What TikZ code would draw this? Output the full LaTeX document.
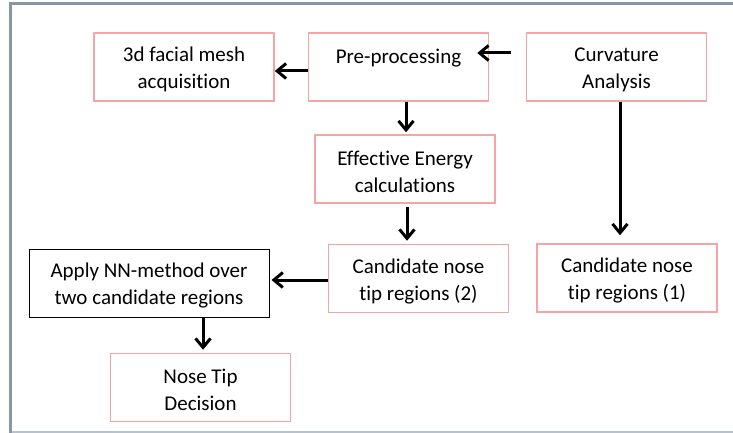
\documentclass[tikz,border=0pt]{standalone}
\usepackage{fontspec}
\setmainfont{Carlito}[Ligatures=NoCommon]
\usepackage{xcolor}
\usepackage{tikz}
\usetikzlibrary{calc,arrows.meta,positioning}
\definecolor{boxred}{RGB}{245,165,165}
\definecolor{framegray}{RGB}{138,150,168}
\definecolor{framelight}{RGB}{184,194,204}
\newcommand{\topstrut}{\rule{0pt}{20pt}}
\tikzset{
  box/.style={draw=boxred, line width=1.5pt, fill=white, minimum width=180pt, minimum height=68pt, align=center, inner sep=0pt, font=\fontsize{21}{27}\selectfont},
  box_k/.style={box, draw=black, line width=1pt, minimum width=240pt},
  arr/.style={line width=3pt, -{Straight Barb[length=9pt,width=15pt]}}
}
\begin{document}
\begin{tikzpicture}[x=1pt,y=-1pt]
  \useasboundingbox (0,0) rectangle (733,433);
  % frame
  \draw[framegray, line width=3pt] (733,4) -- (10.5,4) -- (10.5,433);
  \draw[framelight, line width=2pt] (12,432) -- (733,432);

  \node[box] (mesh) at (184,67) {\topstrut 3d facial mesh\\acquisition};
  \node[box] (pre_proc) at (398.5,67) {\topstrut Pre-processing\\\mbox{}};
  \node[box] (curv) at (616.5,67) {\topstrut Curvature\\Analysis};
  \node[box] (energy) at (405,169) {\topstrut Effective Energy\\calculations};
  \node[box] (cand_2) at (418.5,278.5) {\topstrut Candidate nose\\tip regions (2)};
  \node[box] (cand_1) at (627,278) {\topstrut Candidate nose\\tip regions (1)};
  \node[box_k] (apply) at (149,283) {\topstrut Apply NN-method over\\two candidate regions};
  \node[box] (tip) at (200.5,387.5) {\topstrut Nose Tip\\Decision};

  \draw[arr] ([shift={(-15,-14)}]curv.west) -- ([shift={(-12,-14)}]pre_proc.east);
  \draw[arr] ([yshift=-4]pre_proc.west) -- ([yshift=-4]mesh.east);
  \draw[arr, shorten >=2pt] ([xshift=7.5]pre_proc.south) -- ([xshift=7.5]pre_proc.south |- energy.north);
  \draw[arr, shorten <=3pt, shorten >=3pt] ([xshift=2]energy.south) -- ([xshift=2]energy.south |- cand_2.north);
  \draw[arr, shorten >=8pt] ([xshift=3.5]curv.south) -- ([xshift=3.5]curv.south |- cand_1.north);
  \draw[arr, shorten >=2pt] ([yshift=-1.5]cand_2.west) -- ([yshift=-1.5]cand_2.west -| apply.east);
  \draw[arr, shorten >=3pt] ([xshift=2.5]tip.north |- apply.south) -- ([xshift=2.5]tip.north);
\end{tikzpicture}
\end{document}
